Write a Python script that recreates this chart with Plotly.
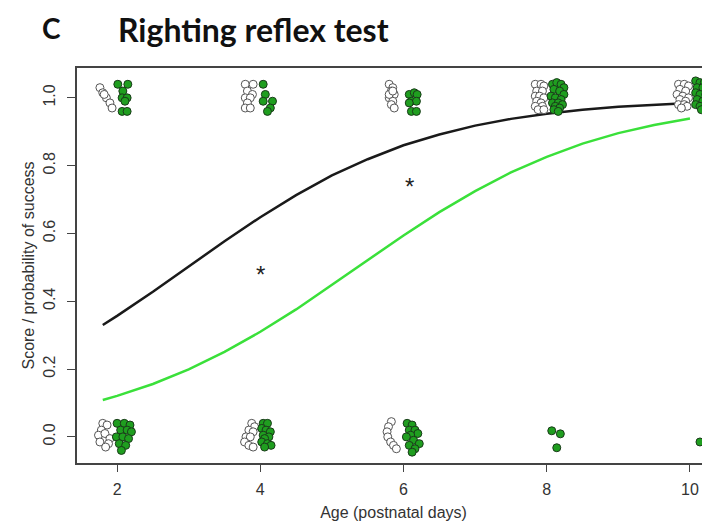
import plotly.graph_objects as go

# ---------------- data ----------------
curve_x = [1.8, 2.0, 2.5, 3.0, 3.5, 4.0, 4.5, 5.0, 5.5, 6.0, 6.5, 7.0, 7.5, 8.0, 8.5, 9.0, 9.5, 10.0]
black_curve = [0.330, 0.357, 0.428, 0.503, 0.577, 0.648, 0.713, 0.771, 0.819, 0.860, 0.892, 0.918, 0.938,
               0.953, 0.965, 0.974, 0.980, 0.985]
green_curve = [0.109, 0.121, 0.156, 0.199, 0.251, 0.310, 0.376, 0.448, 0.521, 0.594, 0.663, 0.725, 0.780,
               0.826, 0.865, 0.896, 0.920, 0.939]

# jittered individual scores (open / control group)
open_x = [
    1.76, 1.80, 1.85, 1.90, 1.93, 1.82,
    1.80, 1.86, 1.78, 1.74, 1.83, 1.90, 1.76, 1.88, 1.84,
    3.79, 3.90, 3.82, 3.89, 3.79, 3.86, 3.82, 3.79, 3.86,
    3.88, 3.92, 3.84, 3.90, 3.80, 3.86, 3.78, 3.84, 3.90,
    5.80, 5.85, 5.83, 5.87, 5.80, 5.85, 5.83, 5.87, 5.80, 5.85,
    5.83, 5.79, 5.77, 5.78, 5.82, 5.86, 5.90,
    7.84, 7.92, 7.96, 7.86, 7.94, 7.84, 7.90, 7.96, 7.86, 7.92, 7.84, 7.94, 7.88, 7.96,
    9.84, 9.92, 9.98, 9.86, 9.94, 9.82, 9.90, 9.98, 9.86, 9.94, 9.84, 9.92, 9.96, 9.88,
]
open_y = [
    1.03, 1.015, 1.00, 0.985, 0.97, 1.01,
    0.04, 0.035, 0.02, 0.005, 0.01, -0.005, -0.015, -0.02, -0.03,
    1.04, 1.04, 1.02, 1.01, 1.00, 1.00, 0.985, 0.97, 0.97,
    0.04, 0.03, 0.02, 0.015, 0.0, 0.0, -0.015, -0.025, -0.03,
    1.04, 1.03, 1.02, 1.01, 1.00, 0.99, 0.98, 0.97, 1.01, 1.02,
    0.045, 0.03, 0.015, 0.0, -0.015, -0.025, -0.035,
    1.04, 1.04, 1.035, 1.02, 1.02, 1.005, 1.005, 1.0, 0.99, 0.985, 0.975, 0.975, 0.965, 0.965,
    1.04, 1.04, 1.035, 1.025, 1.02, 1.01, 1.005, 1.0, 0.995, 0.99, 0.98, 0.98, 0.975, 0.97,
]

# jittered individual scores (green group)
green_x = [
    2.01, 2.15, 2.08, 2.07, 2.14, 2.11, 2.07, 2.14,
    2.00, 2.10, 2.18, 2.05, 2.14, 2.20, 1.99, 2.08, 2.16, 2.03, 2.12, 2.06,
    4.04, 4.07, 4.04, 4.17, 4.14, 4.10,
    4.04, 4.10, 4.02, 4.08, 4.14, 4.04, 4.12, 4.06, 4.02, 4.10, 4.15, 4.06,
    6.08, 6.15, 6.19, 6.11, 6.18, 6.08, 6.11, 6.18,
    6.05, 6.12, 6.08, 6.16, 6.20, 6.10, 6.04, 6.14, 6.22, 6.08, 6.16, 6.12,
    8.08, 8.14, 8.20, 8.24, 8.10, 8.18, 8.24, 8.06, 8.12, 8.20, 8.08, 8.16, 8.22, 8.12, 8.18, 8.10, 8.16,
    8.07, 8.19, 8.14,
    10.08, 10.14, 10.20, 10.26, 10.10, 10.18, 10.24, 10.08, 10.14, 10.22, 10.28, 10.10, 10.18, 10.26,
    10.08, 10.14, 10.22, 10.16,
    10.14,
]
green_y = [
    1.04, 1.04, 1.02, 1.00, 1.00, 0.99, 0.96, 0.96,
    0.04, 0.04, 0.035, 0.02, 0.02, 0.015, 0.0, 0.0, -0.005, -0.02, -0.025, -0.04,
    1.04, 1.01, 0.99, 0.99, 0.97, 0.96,
    0.04, 0.04, 0.025, 0.02, 0.015, 0.005, 0.0, -0.005, -0.015, -0.02, -0.025, -0.03,
    1.01, 1.015, 1.01, 0.99, 0.99, 0.985, 0.96, 0.96,
    0.04, 0.035, 0.02, 0.02, 0.01, 0.005, 0.0, -0.01, -0.02, -0.025, -0.035, -0.045,
    1.04, 1.045, 1.04, 1.03, 1.025, 1.02, 1.01, 1.005, 1.0, 0.995, 0.985, 0.985, 0.98, 0.975, 0.97, 0.965, 0.96,
    0.018, 0.009, -0.032,
    1.05, 1.045, 1.045, 1.04, 1.03, 1.03, 1.025, 1.015, 1.01, 1.01, 1.0, 0.995, 0.99, 0.99,
    0.98, 0.975, 0.975, 0.965,
    -0.015,
]

star_x = [4.0, 6.09]
star_y = [0.49, 0.749]

x_ticks = [2, 4, 6, 8, 10]
y_ticks = [0.0, 0.2, 0.4, 0.6, 0.8, 1.0]
y_tick_labels = ["0.0", "0.2", "0.4", "0.6", "0.8", "1.0"]

# ---------------- figure ----------------
# page body has an 8px default margin, so the figure is drawn 8px in from the top-left
OFF = 8
W, H = 710 - OFF, 526 - OFF
ML, MR, MT, MB = 77 - OFF, 0, 68 - OFF, 63
PW, PH = W - ML - MR, H - MT - MB

fig = go.Figure()

fig.add_trace(go.Scatter(x=curve_x, y=black_curve, mode="lines",
                         line=dict(color="#1a1a1a", width=2.5), hoverinfo="skip"))
fig.add_trace(go.Scatter(x=curve_x, y=green_curve, mode="lines",
                         line=dict(color="#3ae03a", width=2.5), hoverinfo="skip"))

fig.add_trace(go.Scatter(x=open_x, y=open_y, mode="markers",
                         marker=dict(size=8, color="white", line=dict(color="#555555", width=1))))
fig.add_trace(go.Scatter(x=green_x, y=green_y, mode="markers",
                         marker=dict(size=8, color="#1f9e1f", line=dict(color="#1a3a1a", width=1))))

for sx, sy in zip(star_x, star_y):
    fig.add_annotation(x=sx, y=sy, xref="x", yref="y", text="*", showarrow=False,
                       xanchor="center", yanchor="middle", yshift=-4,
                       font=dict(size=24, color="#222222", family="Liberation Sans"))

axis_font = dict(family="Liberation Sans, Arial", size=16, color="#333333")

fig.update_layout(
    width=W, height=H,
    margin=dict(l=ML, r=MR, t=MT, b=MB),
    paper_bgcolor="white", plot_bgcolor="white",
    showlegend=False,
    font=axis_font,
    xaxis=dict(range=[1.44, 10.28], tickvals=x_ticks, ticks="outside", ticklen=7,
               tickcolor="#444444", tickwidth=1.3, showline=True, mirror=True,
               linecolor="#444444", linewidth=1.5, showgrid=False, zeroline=False,
               tickfont=axis_font, ticklabelstandoff=4, automargin=False,
               title=dict(text="Age (postnatal days)", font=axis_font, standoff=10)),
    yaxis=dict(range=[-0.077, 1.088], tickvals=y_ticks, ticktext=y_tick_labels,
               ticks="outside", ticklen=8, tickcolor="#444444", tickwidth=1.3,
               showline=True, mirror=False, linecolor="#444444", linewidth=1.5,
               showgrid=False, zeroline=False, tickangle=-90, tickfont=axis_font,
               ticklabelstandoff=6, automargin=False,
               title=dict(text="Score / probability of success", font=axis_font, standoff=2)),
)

title_font = dict(family="Lato, Open Sans", size=32, color="#111111")
title_top = 1 + MT / PH   # top edge of the figure, in paper units
fig.add_annotation(text="<b>C</b>", xref="paper", yref="paper",
                   x=(40 - OFF - ML) / PW, y=title_top,
                   xanchor="left", yanchor="top", yshift=-1, showarrow=False,
                   font=dict(family="Lato, Open Sans", size=28, color="#111111"))
fig.add_annotation(text="<b>Righting reflex test</b>", xref="paper", yref="paper",
                   x=(116 - OFF - ML) / PW, y=title_top,
                   xanchor="left", yanchor="top", yshift=0, showarrow=False, font=title_font)

fig.write_html("out.html")
